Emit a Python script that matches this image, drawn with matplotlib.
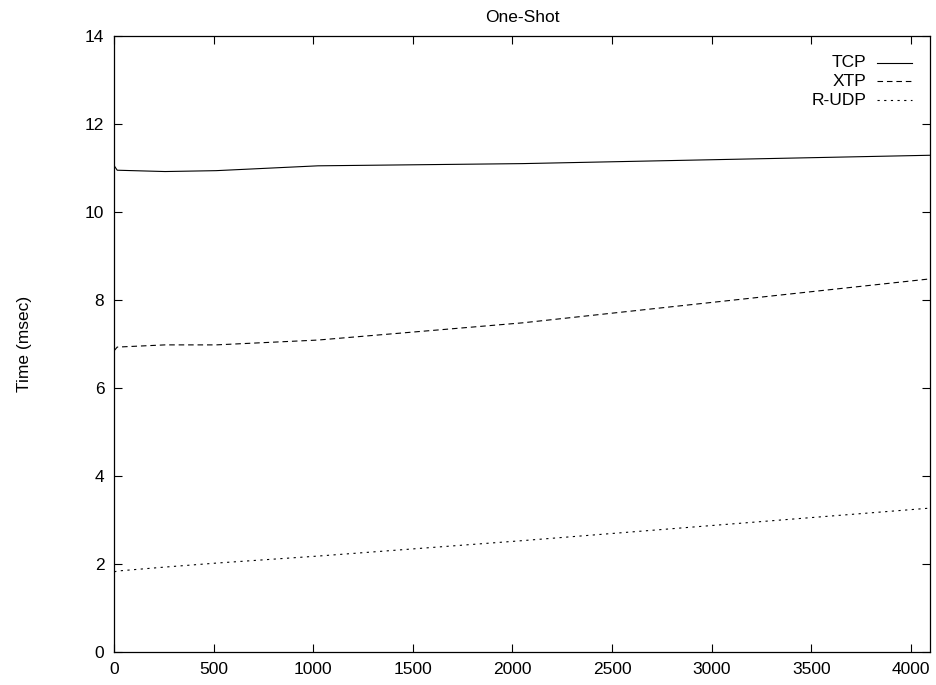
import matplotlib.pyplot as plt

plt.rcParams['font.family'] = ['Liberation Sans', 'DejaVu Sans']

# message size vs. one-shot transaction time
sizes = [1, 16, 256, 512, 1024, 2048, 4096]
tcp = [11.05, 10.95, 10.92, 10.94, 11.05, 11.10, 11.29]
xtp = [6.85, 6.93, 6.98, 6.98, 7.09, 7.48, 8.48]
rudp = [1.82, 1.84, 1.93, 2.02, 2.18, 2.53, 3.27]

labels = ['TCP', 'XTP', 'R-UDP']
styles = ['-', (0, (5, 3.5)), (0, (2, 4))]

fig = plt.figure(figsize=(9.37, 6.85), dpi=100)
ax = fig.add_axes([0.1217, 0.0482, 0.8708, 0.8992])

lw = 0.8
for i, ys in enumerate([tcp, xtp, rudp]):
    ax.plot(sizes, ys, color='black', linestyle=styles[i], linewidth=lw)

    # gnuplot-style key: right-aligned label, sample line to its right
    y = 0.957 - i * 0.0305
    ax.text(0.9216, y, labels[i], transform=ax.transAxes, ha='right', va='center', fontsize=12.5)
    ax.plot([0.935, 0.978], [y, y], transform=ax.transAxes,
            color='black', linestyle=styles[i], linewidth=lw)

ax.set_xlim(0, 4096)
ax.set_ylim(0, 14)
ax.set_xticks(range(0, 4001, 500))
ax.set_yticks(range(0, 15, 2))
ax.tick_params(direction='in', top=True, right=True, length=6, width=0.8,
               labelsize=12.5, pad=7)
for s in ax.spines.values():
    s.set_linewidth(0.9)

ax.set_title('One-Shot', fontsize=12.5, pad=10)
ax.set_ylabel('Time (msec)', fontsize=12.5, labelpad=38)

fig.savefig('out.png', dpi=100)
